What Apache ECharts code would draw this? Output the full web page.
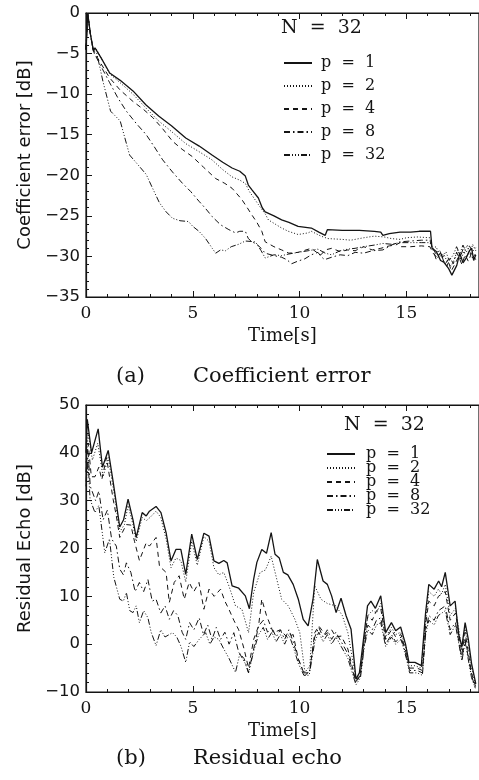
<!DOCTYPE html>
<html>
<head>
<meta charset="utf-8">
<script src="https://cdn.jsdelivr.net/npm/echarts@6/dist/echarts.min.js"></script>
<style>
html,body{margin:0;padding:0;background:#fff;}
#chart{width:479px;height:780px;}
</style>
</head>
<body>
<div id="chart"></div>
<script>
// ---------- Data: (a) Coefficient error [dB] vs Time[s] ----------
var seriesNames = ['p = 1', 'p = 2', 'p = 4', 'p = 8', 'p = 32'];
var xTicks = [0, 5, 10, 15];
var yTicksA = [0, -5, -10, -15, -20, -25, -30, -35];
var yTicksB = [50, 40, 30, 20, 10, 0, -10];

var coefP1 = [[0,-4.5],[0.08,0],[0.2,-2.5],[0.35,-4.7],[0.42,-4.3],[0.7,-5.5],[1.11,-7.4],[1.6,-8.3],[2.2,-9.6],[2.8,-11.3],[3.4,-12.7],[4.0,-13.9],[4.67,-15.4],[5.3,-16.4],[5.9,-17.5],[6.4,-18.4],[6.84,-19.1],[7.2,-19.5],[7.46,-20.1],[7.6,-21.2],[7.77,-21.8],[8.07,-22.8],[8.25,-24],[8.39,-24.5],[8.8,-25],[9.16,-25.5],[9.5,-25.8],[9.93,-26.3],[10.55,-26.5],[10.9,-27],[11.2,-27.4],[11.3,-26.7],[12,-26.8],[12.8,-26.8],[13.5,-26.9],[13.8,-27],[13.9,-27.4],[14.2,-27.2],[14.7,-27.0],[15.2,-27],[15.6,-26.9],[16.13,-26.9],[16.2,-29],[16.4,-29.4],[16.6,-30.5],[16.75,-30.7],[16.98,-31.5],[17.13,-32.3],[17.36,-31.1],[17.5,-29.6],[17.65,-30.8],[17.8,-30.2],[17.95,-29.3],[18.06,-29],[18.15,-30.5],[18.25,-29.8]];
var coefP2 = [[0,-4.5],[0.08,0],[0.2,-2.5],[0.35,-4.7],[0.5,-4.5],[0.8,-6],[1.11,-7.5],[1.6,-8.6],[2.2,-10],[2.8,-11.7],[3.4,-13.3],[4.0,-14.6],[4.67,-16.1],[5.3,-17.1],[5.9,-18.1],[6.4,-19.3],[6.84,-20.2],[7.2,-20.6],[7.46,-21.0],[7.65,-22],[8.07,-23.6],[8.4,-24.8],[8.54,-25.5],[9.16,-26.5],[9.47,-26.9],[9.93,-27.3],[10.4,-27.1],[10.55,-26.9],[11.0,-27.5],[11.33,-27.8],[12.0,-27.9],[12.4,-28.0],[13.0,-27.7],[13.5,-27.5],[13.96,-27.6],[14.3,-27.8],[14.7,-27.9],[15.0,-27.7],[15.5,-27.6],[16.1,-27.7],[16.2,-29],[16.4,-28.8],[16.55,-30],[16.75,-29.7],[16.9,-30.6],[17.1,-31.2],[17.25,-30.3],[17.4,-29.2],[17.55,-30.4],[17.7,-29.4],[17.85,-28.6],[18.0,-29.8],[18.1,-28.5],[18.25,-29.3]];
var coefP4 = [[0,-4.5],[0.08,0],[0.2,-2.5],[0.35,-4.7],[0.6,-5.8],[1.11,-8.0],[1.6,-9.5],[2.2,-10.9],[2.7,-11.9],[3.13,-12.9],[3.6,-14.3],[4.05,-15.8],[4.5,-16.8],[4.98,-17.7],[5.5,-19],[6.07,-20.4],[6.5,-21],[6.84,-21.6],[7.3,-23.0],[7.55,-24],[7.77,-24.9],[8.0,-25.8],[8.23,-26.9],[8.39,-28.2],[8.8,-28.8],[9.16,-29.2],[9.5,-29.6],[9.93,-29.5],[10.3,-29.2],[10.55,-29.0],[10.8,-29.5],[11.0,-29.8],[11.2,-29.2],[11.5,-29.0],[11.9,-29.4],[12.26,-29.2],[12.6,-29.3],[13.0,-28.8],[13.4,-29.2],[13.8,-29.0],[14.2,-28.7],[14.5,-28.6],[14.7,-28.3],[14.75,-28.8],[15.2,-28.8],[15.7,-28.7],[16.1,-28.8],[16.25,-29.6],[16.45,-30.2],[16.6,-29.5],[16.8,-31],[16.95,-30.4],[17.1,-31.8],[17.3,-30.8],[17.45,-30],[17.6,-31],[17.75,-29.8],[17.9,-30.6],[18.05,-29.6],[18.25,-30.4]];
var coefP8 = [[0,-4.5],[0.08,0],[0.2,-2.5],[0.35,-4.8],[0.65,-6.3],[1.11,-8.6],[1.5,-10.5],[1.89,-12.1],[2.35,-13.6],[2.82,-15.0],[3.2,-16.5],[3.59,-18.1],[4.05,-19.6],[4.52,-21.0],[4.9,-22],[5.29,-23.2],[5.6,-24.1],[5.91,-25.1],[6.3,-26.1],[6.69,-26.7],[7.0,-27.1],[7.2,-26.9],[7.46,-26.9],[7.6,-27.8],[7.77,-28.2],[8.0,-28.5],[8.2,-29],[8.39,-29.6],[8.8,-29.9],[9.16,-30.1],[9.4,-30.4],[9.63,-30.9],[9.9,-30.6],[10.24,-30.3],[10.55,-29.8],[10.86,-29.5],[11.0,-30],[11.17,-30.4],[11.5,-30.1],[11.9,-29.8],[12.26,-29.9],[12.6,-29.5],[13.0,-29.6],[13.4,-29.3],[13.9,-29.2],[14.3,-28.6],[14.7,-28.2],[15.2,-28.1],[15.7,-28.0],[16.1,-28.0],[16.25,-29.2],[16.4,-30.4],[16.6,-29.6],[16.75,-30.6],[16.9,-31.2],[17.05,-30.2],[17.2,-30.9],[17.35,-29.5],[17.5,-30.3],[17.65,-29.1],[17.8,-30.1],[17.95,-29.4],[18.1,-30.2],[18.25,-29.6]];
var coefP32 = [[0,-4.5],[0.08,0],[0.2,-2.5],[0.35,-4.7],[0.5,-4.9],[0.8,-8.5],[1.15,-12.1],[1.6,-13.3],[2.04,-17.5],[2.4,-18.6],[2.82,-19.9],[3.1,-21.5],[3.44,-23.4],[3.75,-24.5],[4.05,-25.3],[4.4,-25.6],[4.8,-25.7],[5.0,-26.3],[5.29,-26.9],[5.6,-27.8],[5.91,-29.0],[6.07,-29.6],[6.3,-29.2],[6.53,-29.3],[6.8,-28.8],[7.15,-28.5],[7.46,-28.1],[7.93,-28.2],[8.2,-29.3],[8.39,-30.2],[8.8,-29.8],[9.16,-29.9],[9.5,-29.7],[9.93,-29.5],[10.4,-29.3],[10.86,-29.1],[11.2,-29.6],[11.5,-29.8],[11.9,-29.3],[12.26,-29.1],[12.6,-29.0],[13.0,-28.8],[13.5,-28.6],[13.9,-28.4],[14.3,-28.5],[14.7,-28.3],[15.2,-28.3],[15.7,-28.3],[16.1,-28.3],[16.25,-29],[16.4,-29.8],[16.55,-29.2],[16.7,-30.1],[16.85,-29.4],[17.0,-30.5],[17.2,-29.8],[17.35,-28.8],[17.5,-29.7],[17.65,-28.6],[17.8,-29.5],[17.95,-28.7],[18.1,-29.4],[18.25,-28.9]];

// ---------- Data: (b) Residual Echo [dB] vs Time[s] ----------
var echoP1 = [[0,40],[0.06,47],[0.26,40],[0.57,45],[0.77,37],[1.04,40.5],[1.27,34],[1.58,24.5],[1.76,26],[1.97,30.3],[2.2,26],[2.35,22.3],[2.63,27.5],[2.82,26.8],[2.97,27.8],[3.28,28.8],[3.51,27.5],[3.75,23.3],[3.98,17.4],[4.21,19.8],[4.44,19.8],[4.67,14.6],[4.95,23],[5.21,17.7],[5.52,23.2],[5.76,22.6],[5.99,17.4],[6.22,16.9],[6.45,17.5],[6.61,17],[6.84,12.2],[7.15,11.7],[7.46,10.1],[7.65,7.4],[7.85,13.6],[8.0,17.1],[8.23,19.8],[8.45,19],[8.67,23.3],[8.85,18.8],[9.05,18],[9.24,15],[9.45,14.5],[9.7,12.5],[9.94,9.4],[10.17,5.2],[10.4,3.8],[10.63,9.4],[10.83,17.7],[11.1,13.2],[11.3,12.5],[11.5,10.1],[11.71,6.6],[11.94,9.6],[12.18,5.9],[12.41,3.1],[12.64,-7.3],[12.8,-6],[13.03,2.4],[13.18,8],[13.34,9],[13.55,7.5],[13.8,10.1],[14.03,2.4],[14.3,4.5],[14.5,2.8],[14.73,3.6],[14.96,0],[15.12,-3.8],[15.4,-3.8],[15.7,-4.5],[15.9,6.6],[16.05,12.5],[16.3,11.5],[16.51,13.2],[16.65,12],[16.82,15],[17.05,8],[17.28,9],[17.45,2],[17.6,-0.5],[17.75,4.5],[17.9,1],[18.05,-4],[18.25,-8.3]];
var echoP2 = [[0,38],[0.1,44],[0.3,38.5],[0.55,42],[0.8,35],[1.04,39],[1.3,32],[1.58,23.5],[1.8,25],[1.97,29],[2.2,25],[2.35,21.5],[2.63,26.5],[2.82,25.8],[3.0,26.5],[3.28,27.8],[3.5,26.5],[3.75,22],[3.98,16],[4.21,18],[4.44,17.5],[4.67,13],[4.95,21.5],[5.21,16.5],[5.52,22.5],[5.76,21.5],[5.99,16],[6.22,14.5],[6.45,15],[6.69,12.2],[7.0,8],[7.3,7.3],[7.61,2.4],[7.85,10.8],[8.15,15],[8.4,15.5],[8.67,18.4],[8.93,13.6],[9.16,9.4],[9.47,8],[9.78,5.2],[10.01,2.4],[10.25,-5.9],[10.48,-4.5],[10.71,12.2],[11.0,9.4],[11.3,8.5],[11.7,8],[12.0,6],[12.26,2.4],[12.64,-7.3],[12.85,-6.5],[13.03,1],[13.2,6],[13.4,7],[13.6,6.5],[13.8,8.5],[14.03,1.5],[14.3,3.5],[14.5,2],[14.73,2.5],[15.0,-1],[15.12,-4.5],[15.4,-4.5],[15.7,-5],[15.9,5],[16.05,11],[16.3,10],[16.5,11.5],[16.65,10.5],[16.82,12.5],[17.05,6],[17.3,7.5],[17.6,-1],[17.75,3.5],[17.9,0],[18.05,-5],[18.25,-8.5]];
var echoP4 = [[0,36],[0.1,42],[0.25,35],[0.42,35],[0.6,37],[0.74,34.4],[0.96,39],[1.27,30.3],[1.42,26.8],[1.58,22.3],[1.89,25],[2.1,24.9],[2.27,21.5],[2.5,17.5],[2.82,21.2],[2.97,20.5],[3.28,22.3],[3.44,16.3],[3.75,15],[3.9,8.7],[4.13,12.9],[4.36,14.3],[4.6,9.4],[4.83,12.9],[5.05,11],[5.29,12.9],[5.52,7.3],[5.76,11.5],[6.0,10],[6.3,11.5],[6.5,9],[6.69,7.3],[6.92,5],[7.15,3],[7.4,-1],[7.61,-5],[7.85,1],[8.08,3.8],[8.23,9.4],[8.45,6],[8.77,2.4],[9.1,3],[9.4,1.5],[9.7,2],[9.94,-3.1],[10.25,-6.6],[10.48,-5.5],[10.71,2.4],[10.9,3.8],[11.2,2],[11.5,3],[11.7,1.5],[11.95,1.7],[12.26,-1],[12.64,-7.9],[12.85,-6],[13.03,1],[13.2,6],[13.4,5],[13.6,7],[13.8,7.5],[14.03,1],[14.3,3],[14.5,1.5],[14.75,2],[15.0,-2],[15.15,-5],[15.5,-5],[15.75,-5.5],[15.9,4],[16.05,9],[16.3,8],[16.5,10],[16.82,11],[17.05,5],[17.3,6.5],[17.6,-2],[17.75,2.5],[18.05,-6],[18.25,-9]];
var echoP8 = [[0,34],[0.1,40],[0.2,33],[0.45,30],[0.6,32],[0.8,26],[1.0,28],[1.2,22],[1.42,20.5],[1.58,15.7],[1.75,14.5],[1.89,17],[2.1,15],[2.3,11],[2.5,12.9],[2.7,11],[2.9,13.5],[3.1,9],[3.28,9.4],[3.5,6.5],[3.7,8],[3.9,5.2],[4.1,7],[4.3,6],[4.5,2.5],[4.67,1],[4.85,4.5],[5.05,3],[5.3,5.5],[5.5,2],[5.7,4],[5.9,1],[6.1,3.5],[6.3,1],[6.5,2.5],[6.7,0],[6.92,2.4],[7.15,-1.7],[7.4,-3],[7.61,-5.9],[7.85,-1],[8.08,3.8],[8.3,5],[8.5,2.5],[8.7,3.5],[8.9,1.5],[9.1,3],[9.3,1],[9.5,3],[9.7,0.5],[9.94,-3.1],[10.2,-6],[10.45,-6],[10.71,1.5],[10.9,3.5],[11.1,1.5],[11.3,3],[11.5,1],[11.7,2.5],[11.95,0.5],[12.26,-2],[12.64,-8],[12.85,-6.5],[13.03,0],[13.2,4],[13.4,3],[13.6,5],[13.8,5.5],[14.03,0],[14.3,2],[14.5,0.5],[14.75,1.5],[15.0,-2.5],[15.15,-5.5],[15.5,-5.5],[15.75,-6],[15.9,2.5],[16.05,6],[16.3,5],[16.5,7],[16.82,8],[17.05,3],[17.3,4.5],[17.6,-3],[17.75,1],[18.05,-6.5],[18.25,-9.5]];
var echoP32 = [[0,33],[0.1,38],[0.19,30.3],[0.42,27.5],[0.6,29],[0.88,19.1],[1.1,22],[1.3,14],[1.58,9.4],[1.75,9],[1.89,10.8],[2.05,7],[2.2,6.6],[2.35,8],[2.5,4.5],[2.7,7],[2.9,5.5],[3.05,2.5],[3.28,-0.3],[3.5,3],[3.7,1.5],[4.05,2.4],[4.25,1.5],[4.45,-0.5],[4.67,-3.8],[4.85,0.5],[5.05,-0.5],[5.3,1],[5.6,2.4],[5.8,0],[6.0,1.5],[6.22,1],[6.45,-1],[6.7,-3],[7.0,-5.9],[7.2,-2],[7.45,-4],[7.61,-6],[7.85,-1.5],[8.08,2],[8.3,3.5],[8.5,1],[8.7,2.5],[8.9,0.5],[9.1,2],[9.3,0],[9.5,2],[9.7,-0.5],[9.94,-4],[10.2,-6.5],[10.45,-6.5],[10.71,0.5],[10.9,2.5],[11.1,0.5],[11.3,2],[11.5,0],[11.7,1.5],[11.95,-0.5],[12.26,-3],[12.64,-8.5],[12.85,-7],[13.03,-0.5],[13.2,3],[13.4,2],[13.6,4],[13.8,4.5],[14.03,-0.5],[14.3,1.5],[14.5,0],[14.75,1],[15.0,-3],[15.15,-6],[15.5,-6],[15.75,-6.5],[15.9,2],[16.05,5],[16.3,4],[16.5,6],[16.82,7],[17.05,2],[17.3,4],[17.6,-3.5],[17.75,0.5],[18.05,-7],[18.25,-9.5]];

// ---------- Styling ----------
var INK = '#141414';
var dashes = ['solid', [1, 2], [5, 4], [6, 3, 1.5, 3], [6, 2, 1, 2, 1, 2, 1, 2]];
var widths = [1.3, 1, 1, 1, 1];
var coefData = [coefP1, coefP2, coefP4, coefP8, coefP32];
var echoData = [echoP1, echoP2, echoP4, echoP8, echoP32];
var sansFont = '"DejaVu Sans", sans-serif';
var serifFont = '"DejaVu Serif", serif';

function minus(v) { return String(v).replace('-', '\u2212'); }

function xAxisCfg(gridIndex, withLabels) {
  return {
    type: 'value', gridIndex: gridIndex, min: 0, max: 18.4, interval: 5,
    position: withLabels ? 'bottom' : 'top',
    axisLine: { show: true, onZero: false, lineStyle: { color: INK, width: 1.2 } },
    axisTick: { show: true, inside: true, length: 6, lineStyle: { color: INK } },
    minorTick: { show: true, splitNumber: 5, length: 3, lineStyle: { color: INK } },
    splitLine: { show: false },
    axisLabel: withLabels ? {
      show: true, margin: 8, color: INK, fontFamily: serifFont, fontSize: 17,
      showMaxLabel: false,
      formatter: function (v) { return xTicks.indexOf(v) >= 0 ? String(v) : ''; }
    } : { show: false },
    name: withLabels ? 'Time[s]' : '',
    nameLocation: 'middle', nameGap: 30,
    nameTextStyle: { color: INK, fontFamily: serifFont, fontSize: 18 }
  };
}

function yAxisCfg(gridIndex, min, max, interval, ticks, name) {
  return {
    type: 'value', gridIndex: gridIndex, min: min, max: max, interval: interval,
    axisLine: { show: true, onZero: false, lineStyle: { color: INK, width: 1.2 } },
    axisTick: { show: true, inside: true, length: 6, lineStyle: { color: INK } },
    minorTick: { show: true, splitNumber: 5, length: 3, lineStyle: { color: INK } },
    splitLine: { show: false },
    axisLabel: {
      show: true, margin: 6, color: INK, fontFamily: sansFont, fontSize: 16.5,
      formatter: function (v) { return ticks.indexOf(v) >= 0 ? minus(v) : ''; }
    },
    name: name, nameLocation: 'middle', nameGap: 52, nameRotate: 90,
    nameTextStyle: { color: INK, fontFamily: sansFont, fontSize: 18 }
  };
}

var series = [];
coefData.forEach(function (d, i) {
  series.push({
    name: seriesNames[i], type: 'line', xAxisIndex: 0, yAxisIndex: 0,
    data: d, symbol: 'none', smooth: false, animation: false,
    lineStyle: { color: INK, width: widths[i], type: dashes[i] },
    itemStyle: { color: INK }
  });
});
echoData.forEach(function (d, i) {
  series.push({
    name: seriesNames[i], type: 'line', xAxisIndex: 2, yAxisIndex: 1,
    data: d, symbol: 'none', smooth: false, animation: false,
    lineStyle: { color: INK, width: widths[i], type: dashes[i] },
    itemStyle: { color: INK }
  });
});

function legendNames() {
  return seriesNames.map(function (n) { return { name: n }; });
}

var option = {
  backgroundColor: '#ffffff',
  animation: false,
  grid: [
    { left: 86, top: 13, width: 397, height: 284, show: true, borderColor: INK, borderWidth: 1.2, backgroundColor: 'transparent' },
    { left: 86, top: 405, width: 397, height: 287, show: true, borderColor: INK, borderWidth: 1.2, backgroundColor: 'transparent' }
  ],
  xAxis: [xAxisCfg(0, true), xAxisCfg(0, false), xAxisCfg(1, true), xAxisCfg(1, false)],
  yAxis: [
    yAxisCfg(0, -35, 0, 5, yTicksA, 'Coefficient error [dB]'),
    yAxisCfg(1, -10, 50, 10, yTicksB, 'Residual Echo [dB]')
  ],
  legend: [
    {
      data: legendNames(), orient: 'vertical', left: 278, top: 50,
      itemWidth: 28, itemHeight: 14, itemGap: 7, selectedMode: false,
      itemStyle: { opacity: 0, borderWidth: 0 },
      formatter: function (n) { return n.replace(/ = /, '  =  '); },
      textStyle: { color: INK, fontFamily: serifFont, fontSize: 16, lineHeight: 16, padding: [0, 0, 0, 4] }
    },
    {
      data: legendNames(), orient: 'vertical', left: 321, top: 441,
      itemWidth: 28, itemHeight: 10, itemGap: -2, selectedMode: false,
      itemStyle: { opacity: 0, borderWidth: 0 },
      formatter: function (n) { return n.replace(/ = /, '  =  '); },
      textStyle: { color: INK, fontFamily: serifFont, fontSize: 16, lineHeight: 14, padding: [0, 0, 0, 6] }
    }
  ],
  title: [
    { text: 'N  =  32', left: 281, top: 19, textStyle: { color: INK, fontFamily: serifFont, fontSize: 19, fontWeight: 'normal' }, padding: 0 },
    { text: 'N  =  32', left: 344, top: 416, textStyle: { color: INK, fontFamily: serifFont, fontSize: 19, fontWeight: 'normal' }, padding: 0 },
    { text: '(a)', left: 116, top: 366, textStyle: { color: INK, fontFamily: serifFont, fontSize: 21, fontWeight: 'normal' }, padding: 0 },
    { text: 'Coefficient error', left: 193, top: 366, textStyle: { color: INK, fontFamily: serifFont, fontSize: 21, fontWeight: 'normal' }, padding: 0 },
    { text: '(b)', left: 116, top: 748, textStyle: { color: INK, fontFamily: serifFont, fontSize: 21, fontWeight: 'normal' }, padding: 0 },
    { text: 'Residual echo', left: 193, top: 748, textStyle: { color: INK, fontFamily: serifFont, fontSize: 21, fontWeight: 'normal' }, padding: 0 }
  ],
  series: series
};

var chart = echarts.init(document.getElementById('chart'), null, { renderer: 'canvas' });
chart.setOption(option);
</script>
</body>
</html>
